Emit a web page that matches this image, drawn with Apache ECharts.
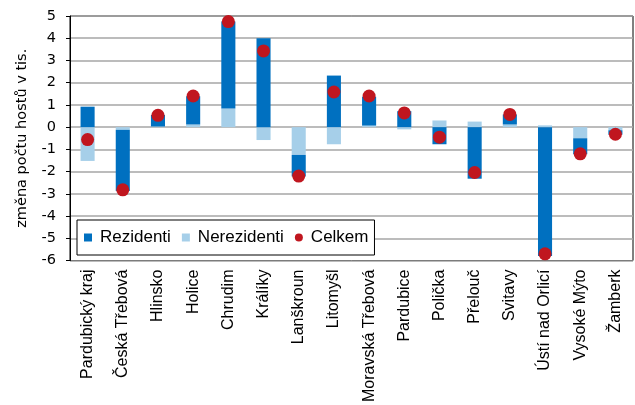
<!DOCTYPE html>
<html>
<head>
<meta charset="utf-8">
<script src="https://cdn.jsdelivr.net/npm/echarts@6/dist/echarts.min.js"></script>
<style>
  html, body { margin: 0; padding: 0; background: #fff; }
  #main { width: 635px; height: 405px; }
</style>
</head>
<body>
<div id="main"></div>
<script>
var okresy = ['Pardubický kraj', 'Česká Třebová', 'Hlinsko', 'Holice', 'Chrudim', 'Králíky',
    'Lanškroun', 'Litomyšl', 'Moravská Třebová', 'Pardubice', 'Polička', 'Přelouč',
    'Svitavy', 'Ústí nad Orlicí', 'Vysoké Mýto', 'Žamberk'];
var rezidenti = [0.92, -2.75, 0.52, 1.27, 3.91, 4.0, -0.97, 2.32, 1.3, 0.72, -0.77, -2.32, 0.45, -5.8, -0.72, -0.2];
var nerezidenti = [-1.52, -0.12, 0.03, 0.12, 0.84, -0.58, -1.25, -0.77, 0.07, -0.1, 0.3, 0.25, 0.12, 0.08, -0.5, -0.14];
var celkem = [-0.56, -2.82, 0.53, 1.4, 4.75, 3.43, -2.2, 1.58, 1.4, 0.64, -0.45, -2.04, 0.57, -5.7, -1.2, -0.32];
var yTicks = [-6, 5];

var option = {
    animation: false,
    grid: {
        left: 70,
        right: 2,
        top: 16,
        bottom: 142,
        show: true,
        borderColor: '#000',
        borderWidth: 1
    },
    legend: {
        left: 77,
        top: 220,
        padding: [9, 6, 9, 7],
        itemGap: 11,
        itemWidth: 14,
        itemHeight: 8,
        backgroundColor: '#fff',
        borderColor: '#000',
        borderWidth: 1,
        textStyle: { fontFamily: 'Liberation Sans', fontSize: 17, color: '#000' }
    },
    xAxis: {
        type: 'category',
        data: okresy,
        axisLine: { show: false },
        axisTick: { show: false },
        axisLabel: {
            rotate: 90,
            interval: 0,
            margin: 9,
            fontFamily: 'Liberation Sans',
            fontSize: 16,
            color: '#000'
        }
    },
    yAxis: {
        type: 'value',
        min: yTicks[0],
        max: yTicks[1],
        interval: 1,
        name: 'změna počtu hostů v tis.',
        nameLocation: 'middle',
        nameGap: 40,
        nameTextStyle: { fontFamily: 'DejaVu Sans', fontSize: 14.5, color: '#000' },
        axisLine: { show: true, lineStyle: { color: '#000' } },
        axisTick: { show: true, inside: false, length: 4, lineStyle: { color: '#000' } },
        axisLabel: { fontFamily: 'DejaVu Sans', fontSize: 14.5, color: '#000', margin: 14 },
        splitLine: { lineStyle: { color: '#a6a6a6', width: 1.5 } }
    },
    series: [
        {
            name: 'Nerezidenti',
            type: 'bar',
            stack: 'hoste',
            barWidth: '40%',
            itemStyle: { color: '#a6cfe9' },
            data: nerezidenti
        },
        {
            name: 'Rezidenti',
            type: 'bar',
            stack: 'hoste',
            barWidth: '40%',
            itemStyle: { color: '#0070c0' },
            data: rezidenti
        },
        {
            name: 'Celkem',
            type: 'scatter',
            symbol: 'circle',
            symbolSize: 13,
            itemStyle: { color: '#c0161f', opacity: 1 },
            data: celkem,
            z: 5
        }
    ]
};
// legenda v poradi jako v originalu, ctverecky misto obdelniku
option.legend.data = [
    { name: 'Rezidenti', icon: 'path://M0,0h10v10h-10z' },
    { name: 'Nerezidenti', icon: 'path://M0,0h10v10h-10z' },
    { name: 'Celkem', icon: 'circle' }
];

var myChart = echarts.init(document.getElementById('main'));
myChart.setOption(option);
</script>
</body>
</html>
